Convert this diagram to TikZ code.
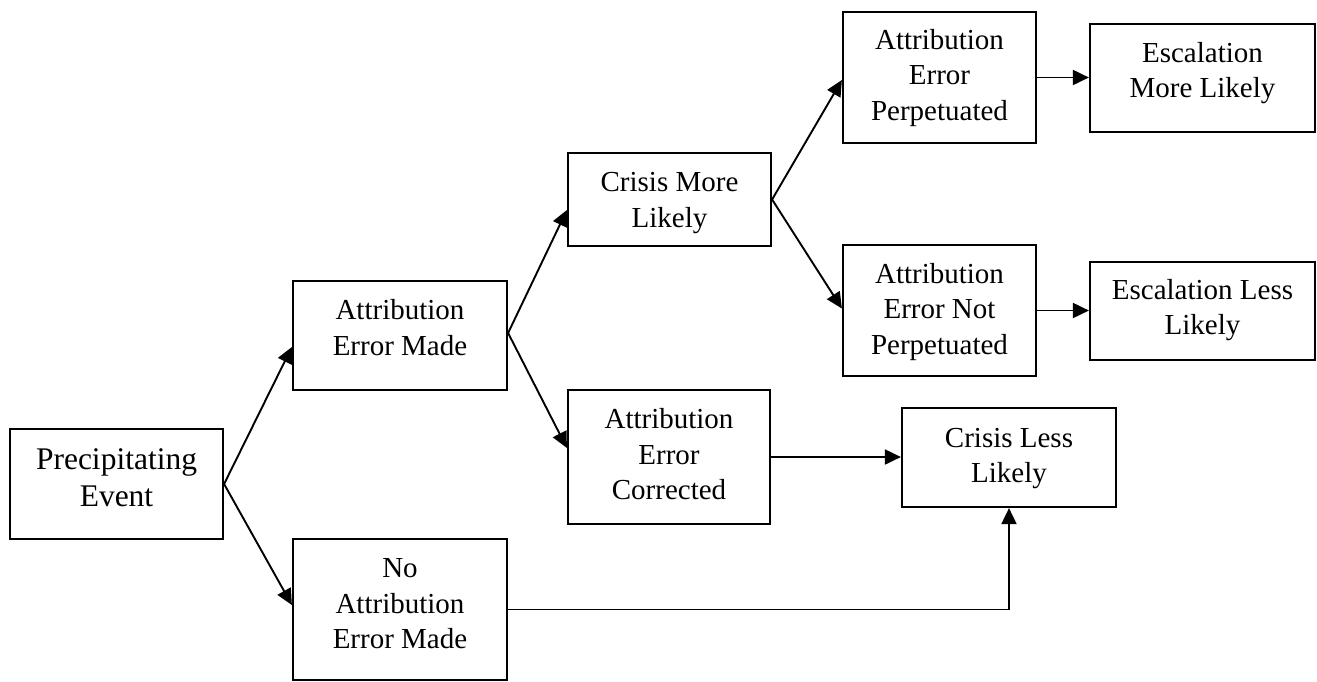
\documentclass[tikz,border=0pt]{standalone}
\usepackage{fontspec}
\setmainfont{Liberation Serif}
\usetikzlibrary{arrows.meta}

\begin{document}
\begin{tikzpicture}[x=0.5pt, y=-0.5pt,
  box/.style={draw, line width=1.1pt, inner sep=0pt},
  txt/.style={align=center, anchor=north, inner sep=0pt,
    font=\fontsize{14.5}{17.75}\selectfont},
  bigtxt/.style={txt, font=\fontsize{15.75}{18.5}\selectfont},
  arr/.style={line width=0.95pt, -{Triangle[length=8pt,width=7.5pt]}}]

\useasboundingbox (0,0) rectangle (1317,681);

% boxes
\node[box, minimum width=106.5pt, minimum height=55pt]   (pe)   at (116.5,484)   {};
\node[box, minimum width=107pt,   minimum height=54.5pt] (aem)  at (400,335.5)   {};
\node[box, minimum width=107pt,   minimum height=70.5pt] (naem) at (400,609.5)   {};
\node[box, minimum width=101.5pt, minimum height=46.5pt] (cml)  at (669.5,199.5) {};
\node[box, minimum width=101pt,   minimum height=67pt]   (aec)  at (669,457)     {};
\node[box, minimum width=96.5pt,  minimum height=65.5pt] (aep)  at (939.5,77.5)  {};
\node[box, minimum width=96.5pt,  minimum height=65.5pt] (aenp) at (939.5,310.5) {};
\node[box, minimum width=112.5pt, minimum height=54pt]   (eml)  at (1202.5,78)   {};
\node[box, minimum width=112.5pt, minimum height=49pt]   (ell)  at (1202.5,311)  {};
\node[box, minimum width=107pt,   minimum height=49.5pt] (cll)  at (1009,457.5)  {};

% box texts, set from the top edge of each box
\node[bigtxt] (pe-t) at ([yshift=-7.6pt]pe.north)  {\strut Precipitating\\Event};
\node[txt] (aem-t)  at ([yshift=-7.3pt]aem.north)  {\strut Attribution\\Error Made};
\node[txt] (naem-t) at ([yshift=-7.3pt]naem.north) {\strut No\\Attribution\\Error Made};
\node[txt] (cml-t)  at ([yshift=-7.3pt]cml.north)  {\strut Crisis More\\Likely};
\node[txt] (aec-t)  at ([yshift=-7.3pt]aec.north)  {\strut Attribution\\Error\\Corrected};
\node[txt] (aep-t)  at ([yshift=-6.5pt]aep.north)  {\strut Attribution\\Error\\Perpetuated};
\node[txt] (aenp-t) at ([yshift=-7pt]aenp.north)   {\strut Attribution\\Error Not\\Perpetuated};
\node[txt] (eml-t)  at ([yshift=-7pt]eml.north)    {\strut Escalation\\More Likely};
\node[txt] (ell-t)  at ([yshift=-6.5pt]ell.north)  {\strut Escalation Less\\Likely};
\node[txt] (cll-t)  at ([yshift=-7.5pt]cll.north)  {\strut Crisis Less\\Likely};

% connectors
\draw[arr] (pe.east) -- ([yshift=-5.75pt]aem.west);
\draw[arr] (pe.east) -- ([yshift=2.25pt]naem.west);
\draw[arr] ([yshift=1.25pt]aem.east) -- ([yshift=-5.25pt]cml.west);
\draw[arr] ([yshift=1.25pt]aem.east) -- ([yshift=4.5pt]aec.west);
\draw[arr] (cml.east) -- ([yshift=-1.25pt]aep.west);
\draw[arr] (cml.east) -- ([yshift=1pt]aenp.west);
\draw[arr] (aep.east) -- (aep.east -| eml.west);
\draw[arr] (aenp.east) -- (aenp.east -| ell.west);
\draw[arr] (aec.east) -- (aec.east -| cll.west);
\draw[arr] (naem.east) -| (cll.south);

\end{tikzpicture}
\end{document}
